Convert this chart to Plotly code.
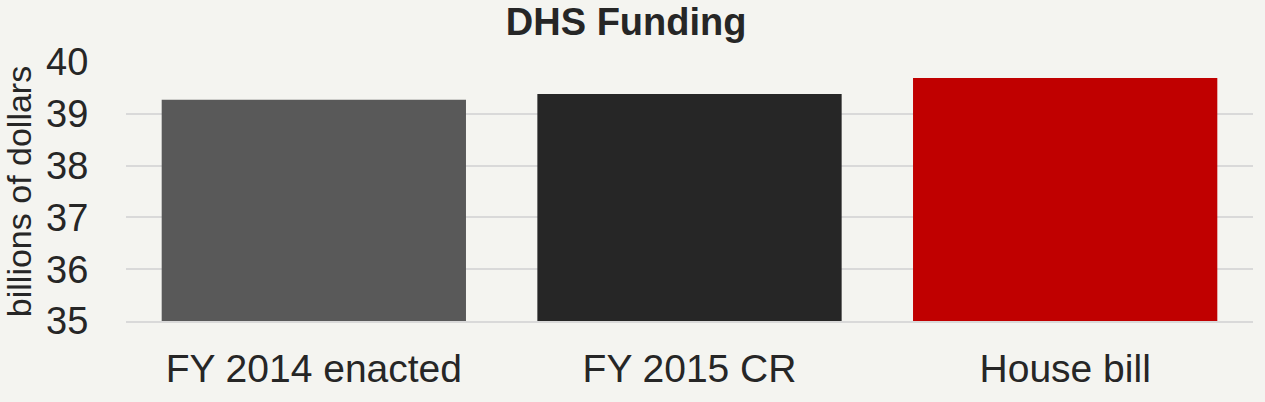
import plotly.graph_objects as go

# DHS funding, billions of dollars
categories = ['FY 2014 enacted', 'FY 2015 CR', 'House bill']
funding = [39.27, 39.38, 39.69]
bar_colors = ['#595959', '#262626', '#c00000']
y_ticks = [35, 36, 37, 38, 39, 40]

fig = go.Figure(data=go.Bar(
    x=categories,
    y=funding,
    marker=dict(color=bar_colors, line=dict(width=0)),
    width=0.81,
))

fig.update_layout(
    title=dict(text='<b>DHS Funding</b>', x=0.495, xanchor='center',
               y=0.98, yanchor='top', font=dict(size=38, color='#262626')),
    width=1265, height=402,
    margin=dict(l=126, r=12, t=62, b=76),
    paper_bgcolor='#f4f4f0',
    plot_bgcolor='#f4f4f0',
    font=dict(family='Liberation Sans, Arial, sans-serif', color='#262626'),
    showlegend=False,
)
fig.update_xaxes(
    tickfont=dict(size=39),
    showline=True, linecolor='#d9d9d9', linewidth=2,
    ticks='outside', ticklen=12, tickcolor='rgba(0,0,0,0)',
)
fig.update_yaxes(
    range=[35, 40], tickvals=y_ticks,
    tickfont=dict(size=38),
    title=dict(text='billions of dollars', font=dict(size=34), standoff=6),
    showgrid=True, gridcolor='#d9d9d9', gridwidth=2,
    zeroline=False,
    ticks='outside', ticklen=29, tickcolor='rgba(0,0,0,0)',
)

# no white page margin around the figure
fig.write_html('out.html', config={'displayModeBar': False},
               post_script="document.body.style.margin='0';"
               "document.body.style.background='#f4f4f0';")
